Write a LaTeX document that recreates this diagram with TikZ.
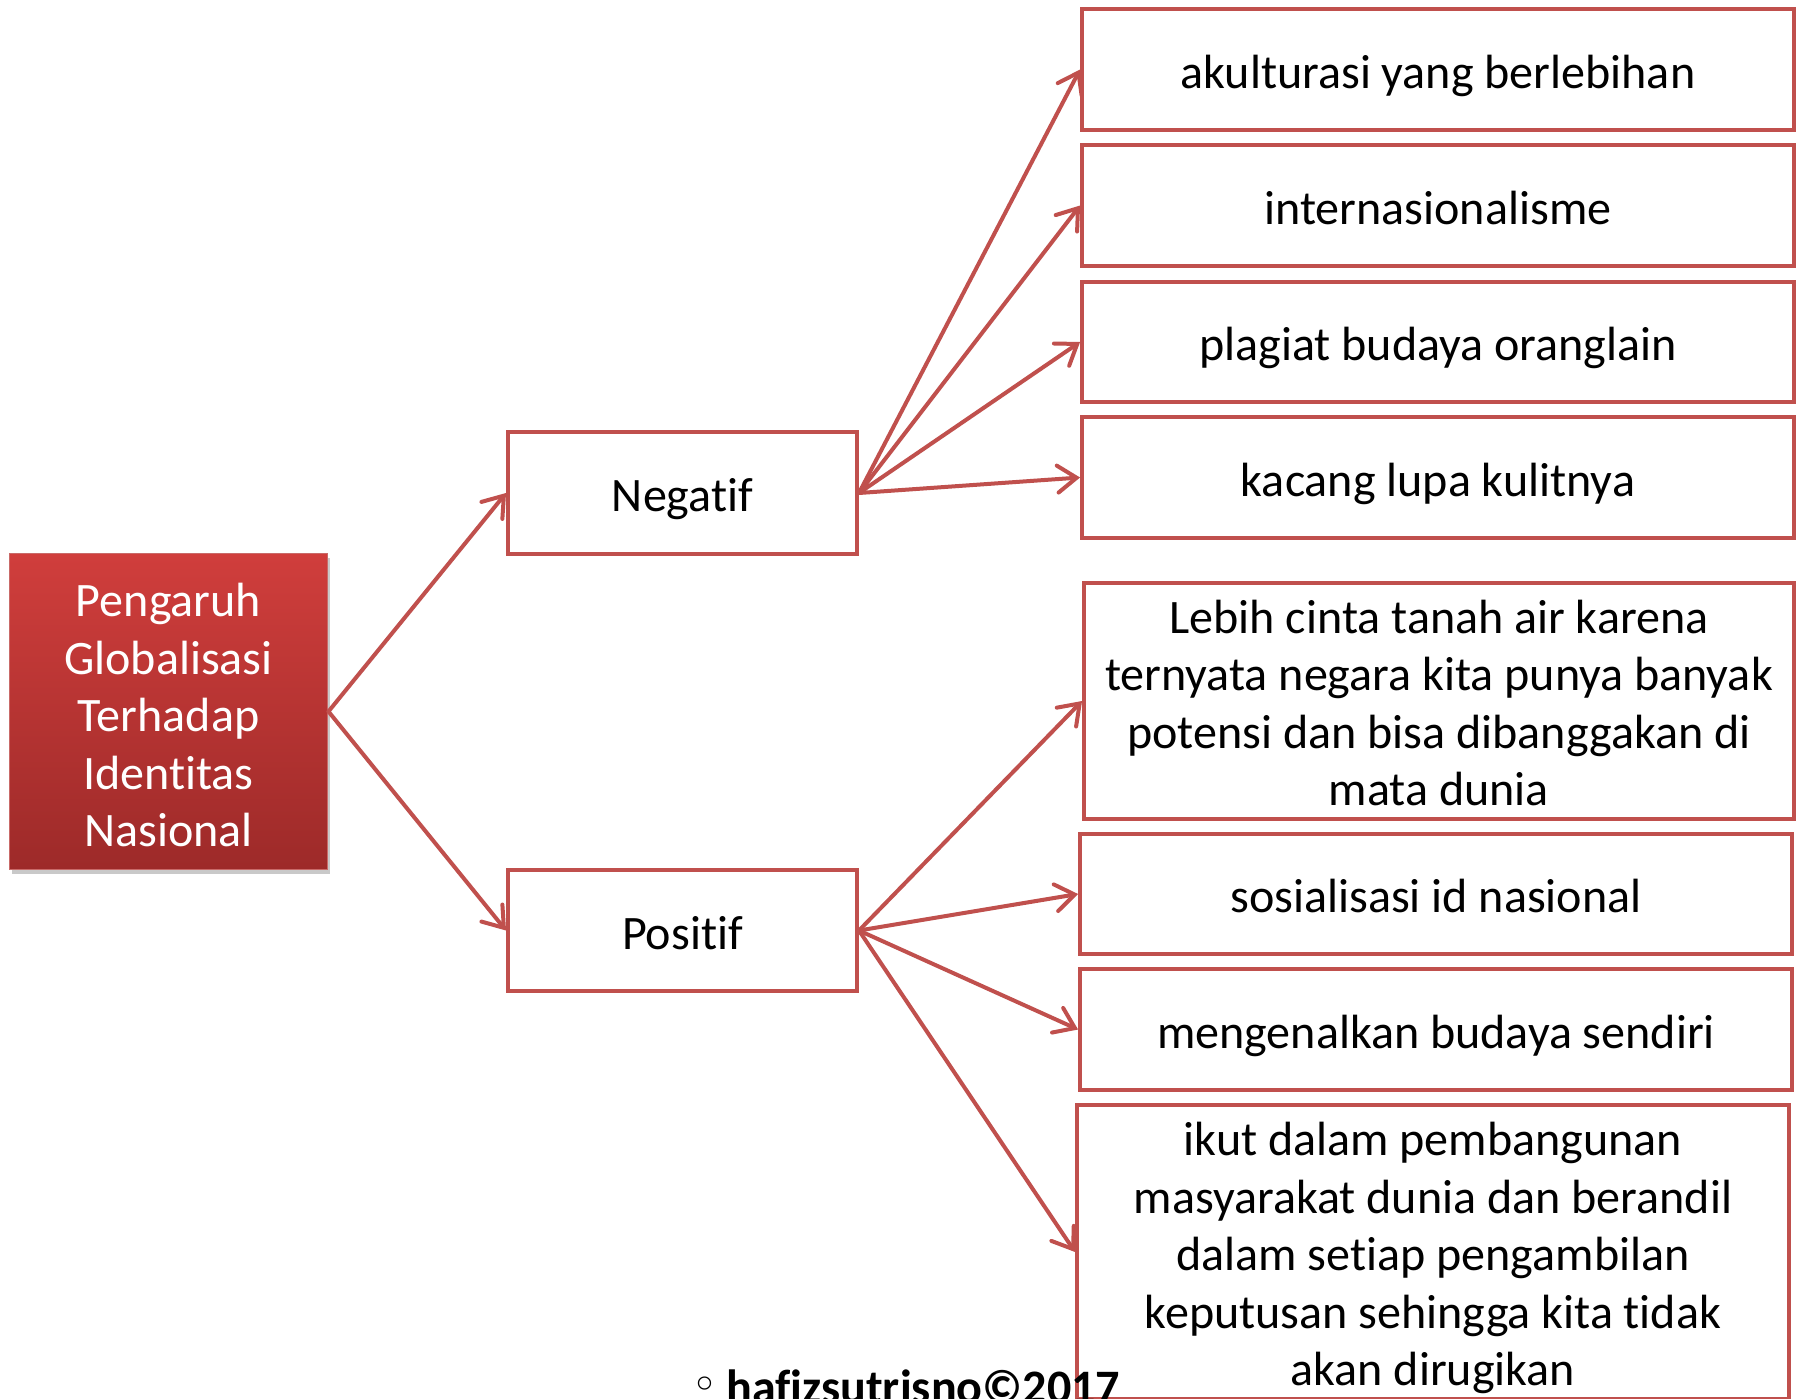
\documentclass[tikz,border=0pt]{standalone}
\usepackage{fontspec}
\setmainfont{Carlito}[Ligatures=NoCommon]
\newfontfamily\symfont{DejaVu Sans}
\usetikzlibrary{arrows.meta,shadows}
\definecolor{accent}{RGB}{192,80,77}
\definecolor{redtop}{RGB}{208,62,60}
\definecolor{redbot}{RGB}{157,42,41}
\begin{document}
\begin{tikzpicture}[x=0.02cm,y=-0.02cm,
  txt/.style={font=\fontsize{27.35}{32.7}\selectfont, align=center},
  % fixed line metrics so that every text sits on the same baseline grid
  lines/.style={text height=28.6pt+(#1-1)*32.7pt, text depth=7.4pt},
  lines/.default=1,
  itembox/.style={txt, lines, draw=accent, line width=0.08cm, inner sep=0pt, rectangle, text=black},
  rootbox/.style={txt, text height=30.5pt+4*32.7pt, text depth=7.4pt,
    rectangle, inner sep=0pt, text=white, draw=accent!85!white, line width=0.02cm,
    top color=redtop, bottom color=redbot,
    drop shadow={shadow xshift=0.05cm, shadow yshift=-0.09cm, opacity=0.35, fill=black!60}},
  link/.style={draw=accent, line width=0.08cm, line cap=round, line join=round,
    -{Straight Barb[length=0.38cm, width=0.54cm, line cap=round]}},
  credit/.style={font=\bfseries\fontsize{27.35}{32.7}\selectfont, inner sep=0pt, anchor=base west},
]
\useasboundingbox (0,0) rectangle (1803,1399);
\fill[white] (0,0) rectangle (1803,1399);

% root topic
\node[rootbox, minimum width=6.38cm, minimum height=6.34cm] (root) at (168.5,711.5)
  {Pengaruh\\Globalisasi\\Terhadap\\Identitas\\Nasional};

% two branches
\node[itembox, minimum width=6.98cm, minimum height=2.44cm] (neg) at (682.5,493) {Negatif};
\node[itembox, minimum width=6.98cm, minimum height=2.42cm] (pos) at (682.5,930.5) {Positif};

% negative effects
\node[itembox, minimum width=14.24cm, minimum height=2.42cm] (a1) at (1438,69.5) {akulturasi yang berlebihan};
\node[itembox, minimum width=14.24cm, minimum height=2.42cm] (a2) at (1438,205.5) {internasionalisme};
\node[itembox, minimum width=14.24cm, minimum height=2.40cm] (a3) at (1438,342) {plagiat budaya oranglain};
\node[itembox, minimum width=14.24cm, minimum height=2.42cm] (a4) at (1438,477.5) {kacang lupa kulitnya};

% positive effects
\node[itembox, lines=4, minimum width=14.20cm, minimum height=4.72cm] (b1) at (1439,701)
  {Lebih cinta tanah air karena\\ternyata negara kita punya banyak\\potensi dan bisa dibanggakan di\\mata dunia};
\node[itembox, minimum width=14.24cm, minimum height=2.40cm] (b2) at (1436,894) {sosialisasi id nasional};
\node[itembox, minimum width=14.24cm, minimum height=2.42cm] (b3) at (1436,1029.5) {mengenalkan budaya sendiri};
\node[itembox, lines=5, minimum width=14.24cm, minimum height=5.84cm] (b4) at (1433,1252)
  {ikut dalam pembangunan\\masyarakat dunia dan berandil\\dalam setiap pengambilan\\keputusan sehingga kita tidak\\akan dirugikan};

% connectors
\draw[link] (root.east) -- (neg.west);
\draw[link] (root.east) -- (pos.west);
\foreach \t in {a1,a2,a3,a4} \draw[link] (neg.east) -- (\t.west);
\foreach \t in {b1,b2,b3,b4} \draw[link] (pos.east) -- (\t.west);

% author line
\node[font=\symfont\fontsize{26}{30}\selectfont, inner sep=0pt] (dot) at (705,1389) {◦};
\node[credit] (author) at (726,1403) {hafizsutrisno©2017};
\end{tikzpicture}
\end{document}
